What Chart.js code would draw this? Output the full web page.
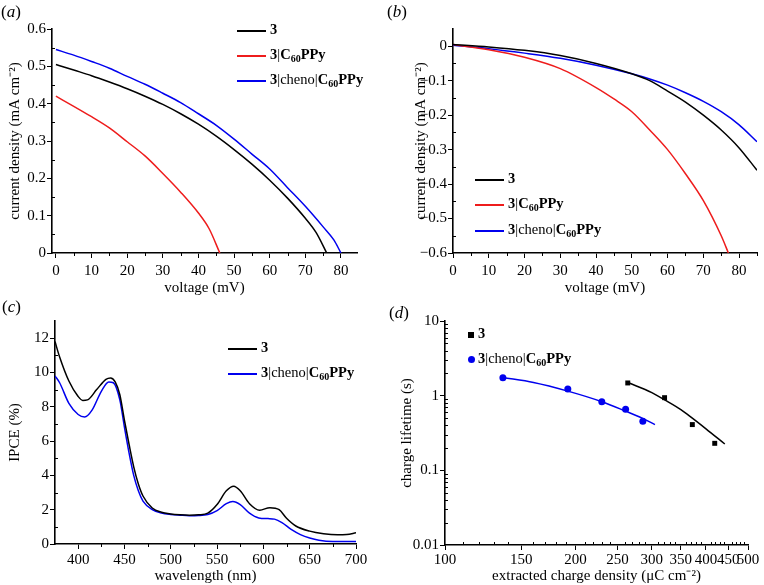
<!DOCTYPE html>
<html>
<head>
<meta charset="utf-8">
<script src="https://cdn.jsdelivr.net/npm/chart.js@4"></script>
<style>
  body { margin: 0; background: #fff; width: 764px; height: 585px; position: relative; overflow: hidden;
         font-family: 'Liberation Serif', serif; color: #000; }
  .panel { position: absolute; }
  .lbl { position: absolute; font-size: 17px; line-height: 1; }
  .leg { position: absolute; font-size: 14.5px; line-height: 1; white-space: nowrap; }
  .leg .row { position: absolute; left: 0; white-space: nowrap; }
  .leg .ln { display: inline-block; width: 29px; height: 2px; vertical-align: middle; margin-right: 4px; }
  .leg b sub { font-size: 10px; vertical-align: -3px; }
  .mk-sq { display: inline-block; width: 6px; height: 6px; background: #000; vertical-align: middle; margin-right: 4px; }
  .mk-ci { display: inline-block; width: 7px; height: 7px; border-radius: 50%; background: #0000ee; vertical-align: middle; margin-right: 3px; }
</style>
</head>
<body>
<canvas id="cA" class="panel" width="382" height="300" style="left:0;top:0"></canvas>
<canvas id="cB" class="panel" width="382" height="300" style="left:382px;top:0"></canvas>
<canvas id="cC" class="panel" width="382" height="293" style="left:0;top:292px"></canvas>
<canvas id="cD" class="panel" width="382" height="293" style="left:382px;top:292px"></canvas>

<div class="lbl" style="left:1px;top:3px">(<i>a</i>)</div>
<div class="lbl" style="left:387px;top:3px">(<i>b</i>)</div>
<div class="lbl" style="left:2px;top:298px">(<i>c</i>)</div>
<div class="lbl" style="left:389px;top:304px">(<i>d</i>)</div>

<div class="leg" style="left:237px;top:22px">
  <div class="row" style="top:0"><span class="ln" style="background:#000"></span><b>3</b></div>
  <div class="row" style="top:25px"><span class="ln" style="background:#ee1c1c"></span><b>3</b>|<b>C<sub>60</sub>PPy</b></div>
  <div class="row" style="top:50px"><span class="ln" style="background:#0000ee"></span><b>3</b>|cheno|<b>C<sub>60</sub>PPy</b></div>
</div>
<div class="leg" style="left:475px;top:171px">
  <div class="row" style="top:0"><span class="ln" style="background:#000"></span><b>3</b></div>
  <div class="row" style="top:25px"><span class="ln" style="background:#ee1c1c"></span><b>3</b>|<b>C<sub>60</sub>PPy</b></div>
  <div class="row" style="top:51px"><span class="ln" style="background:#0000ee"></span><b>3</b>|cheno|<b>C<sub>60</sub>PPy</b></div>
</div>
<div class="leg" style="left:228px;top:340px">
  <div class="row" style="top:0"><span class="ln" style="background:#000"></span><b>3</b></div>
  <div class="row" style="top:25px"><span class="ln" style="background:#0000ee"></span><b>3</b>|cheno|<b>C<sub>60</sub>PPy</b></div>
</div>
<div class="leg" style="left:468px;top:326px">
  <div class="row" style="top:0"><span class="mk-sq"></span><b>3</b></div>
  <div class="row" style="top:25px"><span class="mk-ci"></span><b>3</b>|cheno|<b>C<sub>60</sub>PPy</b></div>
</div>

<script>
// (a) J-V under illumination
const voltA3 = [0, 5, 10, 15, 20, 25, 30, 35, 40, 45, 50, 55, 60, 65, 70, 73, 76];
const curA3 = [0.505, 0.49, 0.475, 0.458, 0.44, 0.42, 0.398, 0.373, 0.345, 0.313, 0.277, 0.238, 0.195, 0.147, 0.093, 0.055, 0];
const voltAc60 = [0, 5, 10, 15, 20, 25, 30, 35, 40, 43, 46];
const curAc60 = [0.42, 0.393, 0.365, 0.335, 0.298, 0.26, 0.213, 0.163, 0.107, 0.065, 0];
const voltAcheno = [0, 5, 10, 15, 20, 25, 30, 35, 40, 45, 50, 55, 60, 65, 70, 75, 78, 80];
const curAcheno = [0.545, 0.53, 0.513, 0.495, 0.473, 0.452, 0.428, 0.403, 0.373, 0.342, 0.305, 0.265, 0.225, 0.175, 0.125, 0.07, 0.035, 0];

// (b) dark current
const voltB = [0, 10, 20, 30, 40, 50, 55, 60, 65, 70, 75, 80, 85];
const curB3 = [0.005, -0.002, -0.012, -0.027, -0.05, -0.08, -0.1, -0.13, -0.162, -0.2, -0.243, -0.295, -0.36];
const curBcheno = [0.003, -0.007, -0.02, -0.035, -0.055, -0.08, -0.095, -0.113, -0.135, -0.16, -0.19, -0.228, -0.277];
const voltBc60 = [0, 10, 20, 30, 40, 45, 50, 55, 60, 65, 70, 75, 77];
const curBc60 = [0.005, -0.01, -0.032, -0.065, -0.12, -0.153, -0.19, -0.243, -0.3, -0.37, -0.448, -0.55, -0.6];

// (c) IPCE
const waveC3 = [375, 380, 390, 400, 405, 410, 420, 430, 435, 440, 445, 450, 455, 460, 465, 470, 480, 490, 500, 510, 520, 530, 540, 550, 560, 568, 575, 585, 596, 607, 617, 625, 635, 650, 665, 680, 690, 700];
const ipceC3 = [11.8, 10.9, 9.5, 8.6, 8.37, 8.4, 9.0, 9.6, 9.68, 9.45, 8.7, 7.2, 5.8, 4.5, 3.5, 2.8, 2.1, 1.85, 1.75, 1.7, 1.68, 1.7, 1.8, 2.3, 3.1, 3.37, 3.1, 2.35, 1.97, 2.12, 2.0, 1.5, 1.05, 0.75, 0.6, 0.54, 0.56, 0.65];
const waveCcheno = [375, 380, 390, 400, 407, 415, 425, 433, 438, 445, 450, 455, 460, 465, 470, 480, 490, 500, 510, 520, 530, 540, 550, 560, 567, 575, 585, 595, 605, 612, 620, 630, 640, 650, 660, 675, 700];
const ipceCcheno = [9.8, 9.4, 8.2, 7.55, 7.4, 7.8, 8.9, 9.45, 9.4, 8.4, 6.8, 5.3, 4.0, 3.1, 2.5, 2.0, 1.8, 1.72, 1.68, 1.65, 1.66, 1.72, 1.95, 2.35, 2.48, 2.3, 1.8, 1.52, 1.48, 1.45, 1.25, 0.85, 0.55, 0.35, 0.22, 0.15, 0.15];

// (d) charge extraction
const chargeD3 = [264, 321, 372, 419];
const lifeD3 = [1.48, 0.94, 0.41, 0.23];
const fitChargeD3 = [264, 300, 321, 350, 372, 400, 442];
const fitLifeD3 = [1.5, 1.1, 0.88, 0.65, 0.5, 0.36, 0.225];
const chargeDcheno = [136, 192, 230, 261, 286];
const lifeDcheno = [1.74, 1.23, 0.83, 0.656, 0.454];
const fitChargeDcheno = [136, 160, 192, 230, 261, 285, 305];
const fitLifeDcheno = [1.75, 1.5, 1.15, 0.83, 0.62, 0.5, 0.41];

// tick values
const ticksA_x = [0, 10, 20, 30, 40, 50, 60, 70, 80];
const ticksA_y = [0, 0.1, 0.2, 0.3, 0.4, 0.5, 0.6];
const ticksB_y = [0, -0.1, -0.2, -0.3, -0.4, -0.5, -0.6];
const ticksC_x = [400, 450, 500, 550, 600, 650, 700];
const ticksC_y = [0, 2, 4, 6, 8, 10, 12];
const ticksD_x = [100, 150, 200, 250, 300, 350, 400, 450, 500];
const ticksD_y = [0.01, 0.1, 1, 10];

const BLACK = '#000000', RED = '#ee1c1c', BLUE = '#0000ee';
Chart.defaults.font.family = "'Liberation Serif', 'Times New Roman', serif";
Chart.defaults.font.size = 15;
Chart.defaults.color = '#000';

function pts(xs, ys) { return xs.map((x, i) => ({ x: x, y: ys[i] })); }
function range(a, b, step) { const out = []; for (let v = a; v <= b + 1e-9; v += step) out.push(+v.toFixed(4)); return out; }

// short minor ticks; x ones point out (down) unless xIn, y ones point in
const minorTicks = {
  id: 'minorTicks',
  afterDraw(chart, args, opts) {
    const ctx = chart.ctx;
    ctx.save();
    ctx.strokeStyle = '#000';
    ctx.lineWidth = 1;
    ['x', 'y'].forEach(id => {
      const list = opts[id];
      if (!list) return;
      const s = chart.scales[id];
      list.forEach(v => {
        if (v < s.min - 1e-9 || v > s.max + 1e-9) return;
        const p = Math.round(s.getPixelForValue(v)) + 0.5;
        ctx.beginPath();
        if (id === 'x') {
          const dir = opts.xIn ? -1 : 1;
          ctx.moveTo(p, s.top); ctx.lineTo(p, s.top + dir * 3);
        } else { ctx.moveTo(s.right, p); ctx.lineTo(s.right + 3, p); }
        ctx.stroke();
      });
    });
    ctx.restore();
  }
};

function axis(opts) {
  return {
    type: opts.type || 'linear',
    min: opts.min, max: opts.max,
    grid: { drawOnChartArea: false, drawTicks: true, tickLength: 5, color: '#000', lineWidth: 1 },
    border: { display: true, color: '#000', width: 1.6 },
    ticks: { padding: opts.pad || 2, maxRotation: 0, autoSkip: false, callback: opts.fmt || (v => String(v)) },
    title: { display: true, text: opts.title, padding: opts.tpad || 0, font: { size: 15 } },
    afterBuildTicks: s => { s.ticks = opts.ticks.map(v => ({ value: v })); },
    afterFit: s => { if (opts.w) s.width = opts.w; if (opts.h) s.height = opts.h; }
  };
}

function lineSet(data, color) {
  return { data: data, borderColor: color, backgroundColor: color, borderWidth: 1.5, pointRadius: 0,
           showLine: true, tension: 0.4, cubicInterpolationMode: 'monotone' };
}

function makeChart(id, datasets, xAx, yAx, pad, minor) {
  return new Chart(document.getElementById(id), {
    type: 'scatter',
    data: { datasets: datasets },
    options: {
      responsive: false, animation: false,
      layout: { padding: pad },
      plugins: { legend: { display: false }, tooltip: { enabled: false }, minorTicks: minor },
      scales: { x: xAx, y: yAx }
    },
    plugins: [minorTicks]
  });
}

const yTitle = 'current density (mA cm\u207B\u00B2)';

makeChart('cA', [
  lineSet(pts(voltA3, curA3), BLACK),
  lineSet(pts(voltAc60, curAc60), RED),
  lineSet(pts(voltAcheno, curAcheno), BLUE)
],
  axis({ min: -1.1, max: 84.5, ticks: ticksA_x, title: 'voltage (mV)', h: 47, pad: 4, tpad: { top: 0, bottom: 3 } }),
  axis({ min: 0, max: 0.6, ticks: ticksA_y, title: yTitle, w: 52, pad: 1, tpad: { top: 6, bottom: 0 } }),
  { top: 29, right: 25, left: 0, bottom: 0 },
  { x: range(5, 85, 10), y: range(0.05, 0.55, 0.1) });

makeChart('cB', [
  lineSet(pts(voltB, curB3), BLACK),
  lineSet(pts(voltBc60, curBc60), RED),
  lineSet(pts(voltB, curBcheno), BLUE)
],
  axis({ min: 0, max: 85, ticks: ticksA_x, title: 'voltage (mV)', h: 47, pad: 4, tpad: { top: 0, bottom: 3 } }),
  axis({ min: -0.6, max: 0.05, ticks: ticksB_y, title: yTitle, w: 71, pad: 1, tpad: { top: 30, bottom: 0 },
         fmt: v => v === 0 ? '0' : '\u2212' + Math.abs(v).toFixed(1) }),
  { top: 29, right: 7, left: 0, bottom: 0 },
  { x: range(5, 85, 10), y: range(-0.55, 0, 0.1) });

makeChart('cC', [
  lineSet(pts(waveC3, ipceC3), BLACK),
  lineSet(pts(waveCcheno, ipceCcheno), BLUE)
],
  axis({ min: 375, max: 700, ticks: ticksC_x, title: 'wavelength (nm)', h: 41, pad: 2, tpad: 0 }),
  axis({ min: 0, max: 13, ticks: ticksC_y, title: 'IPCE (%)', w: 55, pad: 1, tpad: { top: 6, bottom: 0 } }),
  { top: 29, right: 26, left: 0, bottom: 0 },
  { x: range(425, 675, 50), y: range(1, 11, 2) });

const decadeMinors = [];
[0.01, 0.1, 1].forEach(d => { for (let k = 2; k <= 9; k++) decadeMinors.push(+(d * k).toFixed(4)); });
makeChart('cD', [
  lineSet(pts(fitChargeDcheno, fitLifeDcheno), BLUE),
  lineSet(pts(fitChargeD3, fitLifeD3), BLACK),
  { data: pts(chargeD3, lifeD3), showLine: false, pointStyle: 'rect', pointRadius: 3.5, backgroundColor: BLACK, borderColor: BLACK, borderWidth: 0 },
  { data: pts(chargeDcheno, lifeDcheno), showLine: false, pointStyle: 'circle', pointRadius: 3.5, backgroundColor: BLUE, borderColor: BLUE, borderWidth: 0 }
],
  axis({ type: 'logarithmic', min: 100, max: 500, ticks: ticksD_x, title: 'extracted charge density (\u03BCC cm\u207B\u00B2)', h: 40, pad: 1, tpad: 0 }),
  axis({ type: 'logarithmic', min: 0.01, max: 10, ticks: ticksD_y, title: 'charge lifetime (s)', w: 63, pad: 1, tpad: { top: 16, bottom: 0 } }),
  { top: 29, right: 16, left: 0, bottom: 0 },
  { x: range(110, 490, 10).filter(v => v % 50 !== 0), y: decadeMinors, xIn: true });
</script>
</body>
</html>
